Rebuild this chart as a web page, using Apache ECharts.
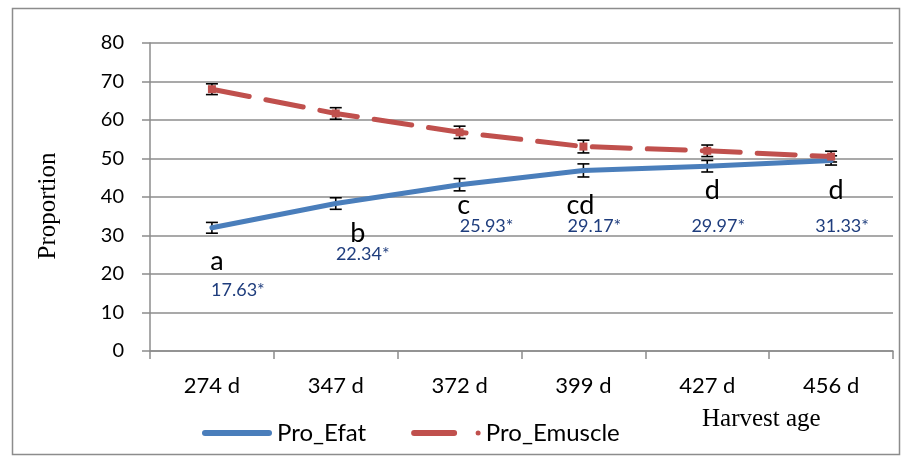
<!DOCTYPE html>
<html>
<head>
<meta charset="utf-8">
<script src="https://cdn.jsdelivr.net/npm/echarts@6/dist/echarts.min.js"></script>
<style>
  html, body { margin: 0; padding: 0; background: #fff; }
  #chart { width: 906px; height: 457px; }
</style>
</head>
<body>
<div id="chart"></div>
<script>
// Harvest ages on the category axis
const categories = ['274 d', '347 d', '372 d', '399 d', '427 d', '456 d'];
// Proportions (%) and their error-bar half widths
const proEfat = [32.0, 38.3, 43.2, 46.9, 48.0, 49.5];
const proEmuscle = [68.0, 61.7, 56.8, 53.1, 52.0, 50.5];
const errEfat = [1.4, 1.5, 1.6, 1.7, 1.5, 1.2];
const errEmuscle = [1.4, 1.5, 1.6, 1.65, 1.5, 1.4];
// Significance letters and annotated values under the Pro_Efat line
const groupLetters = ['a', 'b', 'c', 'cd', 'd', 'd'];
const diffLabels = ['17.63*', '22.34*', '25.93*', '29.17*', '29.97*', '31.33*'];

// Pixel offsets of the annotations from each Pro_Efat point
const letterOffsets = [[5, 33], [22, 30], [4, 21], [-3, 35], [5, 24], [5, 30]];
const numberOffsets = [[26, 62], [27, 51], [27, 42], [11, 56], [11, 60], [11, 66]];

const GRID_GRAY = '#8c8c8c';
const BLUE = '#4a7ebb';
const RED = '#c0504d';
const SANS = 'Lato';
const SERIF = 'Liberation Serif';

const chart = echarts.init(document.getElementById('chart'), null, { renderer: 'canvas' });

function errorBarItem(values, errs) {
  return values.map((v, i) => [i, v, errs[i]]);
}

function renderErrorBar(params, api) {
  const x = api.value(0), v = api.value(1), e = api.value(2);
  const hi = api.coord([x, v + e]);
  const lo = api.coord([x, v - e]);
  const half = 6;
  const style = { stroke: '#000', lineWidth: 1.6 };
  return {
    type: 'group',
    children: [
      { type: 'line', shape: { x1: hi[0], y1: hi[1], x2: lo[0], y2: lo[1] }, style },
      { type: 'line', shape: { x1: hi[0] - half, y1: hi[1], x2: hi[0] + half, y2: hi[1] }, style },
      { type: 'line', shape: { x1: lo[0] - half, y1: lo[1], x2: lo[0] + half, y2: lo[1] }, style }
    ]
  };
}

function renderAnnotation(params, api) {
  const i = params.dataIndex;
  const p = api.coord([api.value(0), api.value(1)]);
  const lo = letterOffsets[i], no = numberOffsets[i];
  return {
    type: 'group',
    children: [
      {
        type: 'text', x: p[0] + lo[0], y: p[1] + lo[1],
        style: { text: groupLetters[i], fill: '#000', font: '27px ' + SANS, align: 'center', verticalAlign: 'middle' }
      },
      {
        type: 'text', x: p[0] + no[0], y: p[1] + no[1],
        style: { text: diffLabels[i], fill: '#1f3d7d', font: '18px ' + SANS, align: 'center', verticalAlign: 'middle' }
      }
    ]
  };
}

const option = {
  backgroundColor: '#fff',
  animation: false,
  grid: { left: 150, right: 13, top: 43, bottom: 106, containLabel: false },
  xAxis: {
    type: 'category',
    data: categories,
    boundaryGap: true,
    axisLine: { lineStyle: { color: GRID_GRAY, width: 1.5 } },
    axisTick: { show: true, length: 8, lineStyle: { color: GRID_GRAY, width: 1.5 } },
    axisLabel: { color: '#000', fontFamily: SANS, fontSize: 22, margin: 24 }
  },
  yAxis: {
    type: 'value',
    min: 0, max: 80, interval: 10,
    axisLine: { show: true, lineStyle: { color: GRID_GRAY, width: 1.5 } },
    axisTick: { show: true, length: 8, lineStyle: { color: GRID_GRAY, width: 1.5 } },
    axisLabel: { color: '#000', fontFamily: SANS, fontSize: 20, margin: 26 },
    splitLine: { show: true, lineStyle: { color: GRID_GRAY, width: 1.5 } }
  },
  legend: {
    left: 197, top: 416,
    itemWidth: 70, itemHeight: 6, itemGap: 45,
    textStyle: { color: '#000', fontFamily: SANS, fontSize: 24 },
    data: [
      {
        name: 'Pro_Efat',
        icon: 'path://M3,0 L67,0 A3,3 0 0 1 67,6 L3,6 A3,3 0 0 1 3,0 Z',
        itemStyle: { color: BLUE, borderWidth: 0 }
      },
      {
        name: 'Pro_Emuscle',
        icon: 'path://M3,0 L43,0 A3,3 0 0 1 43,6 L3,6 A3,3 0 0 1 3,0 Z M67,0.5 A2.5,2.5 0 1 1 67,5.5 A2.5,2.5 0 1 1 67,0.5 Z',
        itemStyle: { color: RED, borderWidth: 0 }
      }
    ]
  },
  graphic: [
    {
      type: 'rect', left: 10, top: 6, z: -10,
      shape: { width: 887, height: 446 },
      style: { fill: 'none', stroke: GRID_GRAY, lineWidth: 1.5 }
    },
    {
      type: 'text', x: 48, y: 206, rotation: Math.PI / 2,
      style: { text: 'Proportion', font: '25px "' + SERIF + '"', fill: '#000', align: 'center', verticalAlign: 'middle' }
    },
    {
      type: 'text', left: 702, top: 407,
      style: { text: 'Harvest age', font: '25px "' + SERIF + '"', fill: '#000' }
    }
  ],
  series: [
    {
      name: 'errEfat', type: 'custom', z: 1,
      data: errorBarItem(proEfat, errEfat),
      renderItem: renderErrorBar, silent: true
    },
    {
      name: 'errEmuscle', type: 'custom', z: 1,
      data: errorBarItem(proEmuscle, errEmuscle),
      renderItem: renderErrorBar, silent: true
    },
    {
      name: 'Pro_Efat', type: 'line', z: 3,
      data: proEfat,
      symbol: 'none',
      lineStyle: { color: BLUE, width: 5, cap: 'round', join: 'round' },
      itemStyle: { color: BLUE }
    },
    {
      name: 'Pro_Emuscle', type: 'line', z: 3,
      data: proEmuscle,
      symbol: 'rect', symbolSize: 8,
      lineStyle: { color: RED, width: 5, type: [38, 17], cap: 'round', join: 'round' },
      itemStyle: { color: RED }
    },
    {
      name: 'labels', type: 'custom', z: 4,
      data: proEfat.map((v, i) => [i, v]),
      renderItem: renderAnnotation, silent: true
    }
  ]
};

chart.setOption(option);
</script>
</body>
</html>
